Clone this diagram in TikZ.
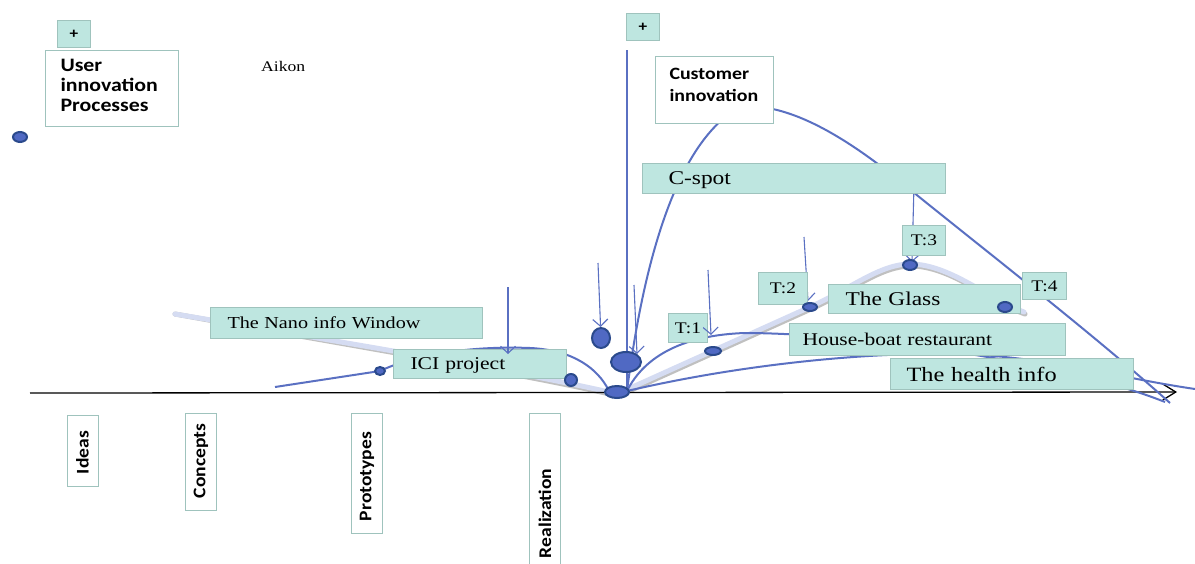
\documentclass[tikz,border=0pt]{standalone}
\usepackage{fontspec}
\setmainfont{Liberation Serif}[FakeStretch=1.2]
\setsansfont{Carlito}[FakeStretch=1.15]
\newfontfamily\rotfont{Carlito}[FakeStretch=1.1]
\usetikzlibrary{arrows.meta,shapes.geometric}
\definecolor{boxfill}{HTML}{BEE6E0}
\definecolor{boxline}{HTML}{9FC3BD}
\definecolor{curveblue}{HTML}{5A70C2}
\definecolor{dotfill}{HTML}{5069C3}
\definecolor{dotline}{HTML}{2B4A8C}
\definecolor{lavender}{HTML}{D5DCF2}
\definecolor{shadowgray}{HTML}{C0C0C0}
\newcommand{\fs}[2][20]{\fontsize{#2}{#1}\selectfont}

\begin{document}
\begin{tikzpicture}[x=1pt, y=-1pt, >={Straight Barb[length=7pt,width=15pt]},
        curvy/.style={draw=curveblue, line width=2pt},
        thinline/.style={draw=curveblue, line width=1.1pt}]
    \useasboundingbox (0,0) rectangle (1195,563);

    \coordinate (o) at (627,391);
    \coordinate (tr0) at (175,314);
    \coordinate (ax0) at (30,393);
    \coordinate (ax1) at (1177,392);
    \coordinate (vtop) at (627,50);
    \coordinate (ici0) at (275,387);
    \coordinate (end1) at (1170,403);
    \coordinate (end2) at (1165,402);
    \coordinate (end3) at (1195,389);

    \begin{scope}[line width=5pt, line cap=round]
        \draw[draw=shadowgray, shift={(1,2)}] (tr0) .. controls (330,340) and (540,375) .. (617,394) -- (810,307)
            .. controls (850,289) and (880,264) .. (910,264) .. controls (950,264) and (990,300) .. (1024,312);
        \draw[draw=lavender] (tr0) .. controls (330,340) and (540,375) .. (617,394) -- (810,307)
            .. controls (850,289) and (880,264) .. (910,264) .. controls (950,264) and (990,300) .. (1024,312);
    \end{scope}

    \draw[black, line width=1.3pt, -{Straight Barb[length=13pt,width=16pt]}] (ax0) -- (ax1);

    \draw[curvy] (o) .. controls (645,250) and (680,140) .. (740,107) .. controls (800,100) and (875,160) .. (918,196)
        .. controls (1000,262) and (1100,340) .. (end1);
    \draw[curvy] (o) .. controls (645,355) and (685,335) .. (745,333) .. controls (850,333) and (1060,360) .. (end2);
    \draw[curvy] (o) .. controls (760,360) and (900,350) .. (980,355) .. controls (1060,360) and (1120,378) .. (end3);
    \draw[curvy] (ici0) -- (380,371) .. controls (420,352) and (480,346) .. (530,348) .. controls (575,350) and (598,370) .. (608,389);
    \draw[thinline] (vtop) -- (o);

    \coordinate (a5s) at (804,237);
    \coordinate (a6s) at (914,185);
    \coordinate (a5e) at (808,301);
    \coordinate (a6e) at (912,262);
    \path [->] (a5s) edge[thinline] (a5e);
    \path [->] (a6s) edge[thinline] (a6e);

    \begin{scope}[every node/.style={draw=boxline, fill=boxfill, line width=1pt, anchor=north west, align=left, inner ysep=0pt}]
        \node[minimum width=33pt, minimum height=27pt, align=center, font=\sffamily\bfseries\fs{15}] (plusL) at (57,20) {+};
        \node[minimum width=33pt, minimum height=27pt, align=center, font=\sffamily\bfseries\fs{15}] (plusR) at (626,13) {+};
        \node[fill=white, text width=103pt, inner xsep=15pt, minimum height=76pt, text depth=46pt, font=\sffamily\bfseries\fs{19}] (user) at (45,50) {User\\innovation\\Processes};
        \node[fill=white, text width=90pt, inner xsep=14pt, minimum height=67pt, text depth=33pt, font={\sffamily\bfseries\fs[22]{17.3}}] (cust) at (655,56) {Customer\\innovation};
        \node[text width=251pt, inner xsep=26pt, minimum height=30pt, text depth=0pt, font=\fs{19.5}] (cspot) at (642,163) {C-spot};
        \node[text width=238pt, inner xsep=17pt, minimum height=31pt, font=\fs{16.8}] (nano) at (210,307) {The Nano info Window};
        \node[text width=139pt, inner xsep=17pt, minimum height=29pt, text depth=0pt, font=\fs{18}] (ici) at (393,349) {ICI project};
        \node[minimum width=39pt, minimum height=29pt, align=center, inner xsep=0pt, font=\fs{16.2}] (t1) at (668,313) {T:1};
        \node[minimum width=49pt, minimum height=32pt, align=center, inner xsep=0pt, font=\fs{16.2}] (t2) at (758,272) {T:2};
        \node[minimum width=43pt, minimum height=30pt, align=center, inner xsep=0pt, font=\fs{16.2}] (t3) at (902,225) {T:3};
        \node[minimum width=44pt, minimum height=27pt, align=center, inner xsep=0pt, font=\fs{16.2}] (t4) at (1022,272) {T:4};
        \node[text width=158pt, inner xsep=17pt, minimum height=29pt, font=\fs{19.5}] (glass) at (828,284) {The Glass};
        \node[text width=250pt, inner xsep=13pt, minimum height=32pt, font=\fs{17.9}] (house) at (789,323) {House-boat restaurant};
        \node[text width=211pt, inner xsep=16pt, minimum height=31pt, font=\fs{20.3}] (health) at (890,358) {The health info};
    \end{scope}

    \node[anchor=west, inner sep=0pt, font=\fs{14.7}] (aikon) at (261,66) {Aikon};

    \begin{scope}[every node/.style={draw=boxline, fill=white, line width=1pt, rotate=90, align=left, inner xsep=12pt, inner ysep=0pt, minimum height=31pt, font=\rotfont\bfseries\fs{17.8}}]
        \node[text width=47pt, minimum width=71pt] (ideas) at (82.5,450.5) {Ideas};
        \node[text width=73pt] (concepts) at (201,461.5) {Concepts};
        \node[text width=96pt] (proto) at (367,473) {Prototypes};
        \node[text width=133pt] (real) at (545,491.5) {Realization};
    \end{scope}

    \coordinate (a1s) at (508,287);
    \coordinate (a1e) at (508,354);
    \coordinate (a3s) at (634,285);
    \coordinate (a3e) at (637,354);
    \coordinate (a4s) at (708,270);
    \coordinate (a4e) at (711,335);
    \coordinate (a2s) at (598,263);

    \begin{scope}[every node/.style={ellipse, draw=dotline, fill=dotfill, line width=2pt, inner sep=0pt}]
        \node[minimum width=14pt, minimum height=10pt] (dleft) at (20,137) {};
        \node[minimum width=10pt, minimum height=8pt] (dici) at (380,371) {};
        \node[minimum width=12pt, minimum height=12pt] (dsmall) at (571,380) {};
        \node[minimum width=18pt, minimum height=20pt] (dmid) at (601,338) {};
        \node[minimum width=30pt, minimum height=20pt] (dbig) at (626,362) {};
        \node[minimum width=24pt, minimum height=12pt] (dorig) at (617,392) {};
        \node[minimum width=16pt, minimum height=8pt] (dt1) at (713,351) {};
        \node[minimum width=14pt, minimum height=8pt] (dt2) at (810,307) {};
        \node[minimum width=14pt, minimum height=10pt] (dt3) at (910,265) {};
        \node[minimum width=14pt, minimum height=10pt] (dglass) at (1005,307) {};
    \end{scope}

    \path [->] (a1s) edge[thinline] (a1e);
    \path [->] (a2s) edge[thinline] (dmid);
    \path [->] (a3s) edge[thinline] (a3e);
    \path [->] (a4s) edge[thinline] (a4e);
\end{tikzpicture}
\end{document}
